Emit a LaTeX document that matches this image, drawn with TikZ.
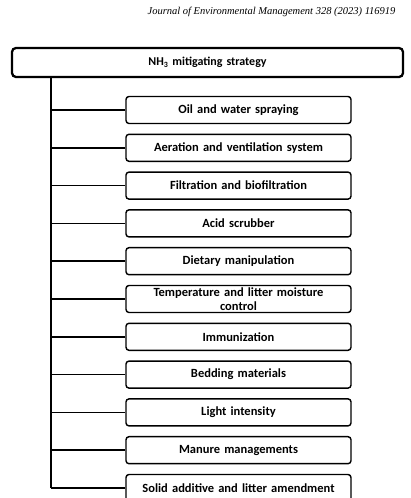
\documentclass[tikz,border=0pt]{standalone}
\usepackage{fontspec}
\setmainfont{Carlito}
\newfontfamily\journalfont{Liberation Serif}
\usepackage{tikz}
\usetikzlibrary{shapes,arrows}
\tikzstyle{line} = [line width=0.05cm]
\tikzstyle{title} = [draw, rectangle, rounded corners=4pt, line width=0.08cm, inner xsep=5pt, inner ysep=1pt, text width=381pt, text centered, minimum height=29pt, font=\fontsize{12}{14}\selectfont\bfseries]
\tikzstyle{block} = [draw, rectangle, rounded corners=3pt, line width=0.05cm, inner xsep=5pt, inner ysep=0.5pt, text width=215pt, text centered, minimum height=27pt, node distance=37.8pt, font=\fontsize{12.5}{13.5}\selectfont\bfseries]

\begin{document}
\begin{tikzpicture}[x=1pt, y=1pt]
        \clip (0,0) rectangle (410,498);
        \node[anchor=east, font=\journalfont\itshape\fontsize{10.5}{12}\selectfont](Journal) at (399,486) {Journal of Environmental Management 328 (2023) 116919};
        \node[title](Strategy) at (207.5,435.5){NH\textsubscript{3} mitigating strategy};
        \node[block](Spraying) at (238.5,388){Oil and water spraying};
        \node[block, below of=Spraying](Ventilation){Aeration and ventilation system};
        \node[block, below of=Ventilation](Filtration){Filtration and biofiltration};
        \node[block, below of=Filtration](Scrubber){Acid scrubber};
        \node[block, below of=Scrubber](Diet){Dietary manipulation};
        \node[block, below of=Diet](Temperature){Temperature and litter moisture\\ control};
        \node[block, below of=Temperature](Immunization){Immunization};
        \node[block, below of=Immunization](Bedding){Bedding materials};
        \node[block, below of=Bedding](Light){Light intensity};
        \node[block, below of=Light](Manure){Manure managements};
        \node[block, below of=Manure](Additive){Solid additive and litter amendment};
        \coordinate[xshift=40pt](Trunk) at (Strategy.south west);
        \path[line](Trunk) edge (Trunk |- Additive.west);
        \path[line](Trunk |- Spraying.west) edge (Spraying.west);
        \path[line](Trunk |- Ventilation.west) edge (Ventilation.west);
        \path[line](Trunk |- Filtration.west) edge (Filtration.west);
        \path[line](Trunk |- Scrubber.west) edge (Scrubber.west);
        \path[line](Trunk |- Diet.west) edge (Diet.west);
        \path[line](Trunk |- Temperature.west) edge (Temperature.west);
        \path[line](Trunk |- Immunization.west) edge (Immunization.west);
        \path[line](Trunk |- Bedding.west) edge (Bedding.west);
        \path[line](Trunk |- Light.west) edge (Light.west);
        \path[line](Trunk |- Manure.west) edge (Manure.west);
        \path[line](Trunk |- Additive.west) edge (Additive.west);
    \end{tikzpicture}
\end{document}
